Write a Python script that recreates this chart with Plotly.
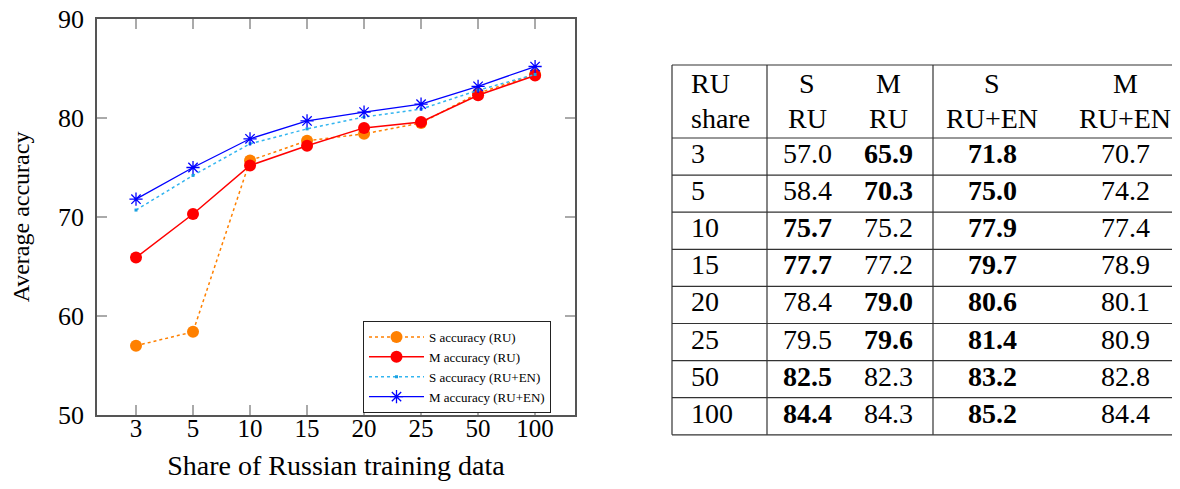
import plotly.graph_objects as go

# ---------------- data ----------------
shares = ["3", "5", "10", "15", "20", "25", "50", "100"]
s_ru = [57.0, 58.4, 75.7, 77.7, 78.4, 79.5, 82.5, 84.4]
m_ru = [65.9, 70.3, 75.2, 77.2, 79.0, 79.6, 82.3, 84.3]
s_ruen = [71.8, 75.0, 77.9, 79.7, 80.6, 81.4, 83.2, 85.2]
m_ruen = [70.7, 74.2, 77.4, 78.9, 80.1, 80.9, 82.8, 84.4]
y_ticks = [50, 60, 70, 80, 90]
header_top = ["RU", "S", "M", "S", "M"]
header_bot = ["share", "RU", "RU", "RU+EN", "RU+EN"]

FONT = "Liberation Serif, Times New Roman, serif"

# page body margin offset (browser default) -> figure is smaller and shifted
OFF = 8
W, H = 1180 - 2 * OFF, 489 - 2 * OFF
# plot area in screen pixels
SL, SR, ST, SB = 97, 575, 19, 415
L, R, T, B = SL - OFF, SR - OFF, ST - OFF, SB - OFF


def px(x):  # screen x -> paper
    return (x - OFF - L) / (R - L)


def py(y):  # screen y -> paper
    return (B - (y - OFF)) / (B - T)


fig = go.Figure()

fig.add_trace(go.Scatter(
    x=shares, y=s_ru, name="S accuracy (RU)", mode="lines+markers",
    line=dict(color="#FF8000", width=1.5, dash="dot"),
    marker=dict(color="#FF8000", size=12, symbol="circle")))
fig.add_trace(go.Scatter(
    x=shares, y=m_ru, name="M accuracy (RU)", mode="lines+markers",
    line=dict(color="#FF0000", width=1.5),
    marker=dict(color="#FF0000", size=12, symbol="circle")))
fig.add_trace(go.Scatter(
    x=shares, y=m_ruen, name="S accuracy (RU+EN)", mode="lines+markers",
    line=dict(color="#33B5F0", width=1.5, dash="dot"),
    marker=dict(color="#1AA0E0", size=3, symbol="square")))
fig.add_trace(go.Scatter(
    x=shares, y=s_ruen, name="M accuracy (RU+EN)", mode="lines+markers",
    line=dict(color="#0000FF", width=1.3),
    marker=dict(color="#0000FF", size=11, symbol="asterisk-open",
                line=dict(color="#0000FF", width=1.3))))

# ---------------- table ----------------
tab_left, tab_right = 672, 1180
tab_top, head_bot = 65, 138
row_h = 37.1
col_sep = [767, 933]
n_rows = len(shares)
tab_bot = head_bot + row_h * n_rows
line_col = "#333333"

shapes = []
hl = [tab_top, head_bot] + [head_bot + row_h * (i + 1) for i in range(n_rows)]
for yv in hl:
    shapes.append(dict(type="line", xref="paper", yref="paper",
                       x0=px(tab_left), x1=px(tab_right), y0=py(yv), y1=py(yv),
                       line=dict(color=line_col, width=1.2)))
for xv in [tab_left] + col_sep:
    shapes.append(dict(type="line", xref="paper", yref="paper",
                       x0=px(xv), x1=px(xv), y0=py(tab_top), y1=py(tab_bot),
                       line=dict(color=line_col, width=1.2)))

col_x = [689, 807, 888, 992, 1125]
col_anchor = ["left", "center", "center", "center", "center"]
TFS = 28
ann = []
for j in range(5):
    ann.append(dict(x=px(col_x[j]), y=py(83), xref="paper", yref="paper",
                    text=header_top[j], showarrow=False, xanchor=col_anchor[j],
                    yanchor="middle", font=dict(family=FONT, size=TFS, color="black")))
    ann.append(dict(x=px(col_x[j]), y=py(118), xref="paper", yref="paper",
                    text=header_bot[j], showarrow=False, xanchor=col_anchor[j],
                    yanchor="middle", font=dict(family=FONT, size=TFS, color="black")))

cols = [s_ru, m_ru, s_ruen, m_ruen]
for i in range(n_rows):
    yc = head_bot + row_h * (i + 0.5) - 3
    ann.append(dict(x=px(col_x[0]), y=py(yc), xref="paper", yref="paper",
                    text=shares[i], showarrow=False, xanchor="left", yanchor="middle",
                    font=dict(family=FONT, size=TFS, color="black")))
    pair_max = [max(s_ru[i], m_ru[i]), max(s_ruen[i], m_ruen[i])]
    for j, col in enumerate(cols):
        v = col[i]
        bold = v == pair_max[j // 2]
        txt = f"<b>{v:.1f}</b>" if bold else f"{v:.1f}"
        ann.append(dict(x=px(col_x[j + 1]), y=py(yc), xref="paper", yref="paper",
                        text=txt, showarrow=False, xanchor="center", yanchor="middle",
                        font=dict(family=FONT, size=TFS, color="black")))

fig.update_layout(
    width=W, height=H, autosize=False,
    margin=dict(l=L, r=W - R, t=T, b=H - B, pad=0, autoexpand=False),
    paper_bgcolor="white", plot_bgcolor="white",
    font=dict(family=FONT, size=24, color="black"),
    showlegend=True,
    legend=dict(x=px(363), y=py(321), xanchor="left", yanchor="top",
                bordercolor="#222222", borderwidth=1, bgcolor="white",
                font=dict(family=FONT, size=13, color="black"),
                itemwidth=55, tracegroupgap=0),
    shapes=shapes,
    annotations=ann,
)

fig.update_xaxes(
    type="category", range=[-0.684, 7.70], automargin=False,
    showgrid=False, zeroline=False,
    showline=True, linecolor="#555555", linewidth=1.5, mirror="ticks",
    ticks="inside", ticklen=10, tickcolor="#AAAAAA", tickwidth=1.5,
    ticklabelstandoff=-10,
    tickfont=dict(family=FONT, size=25, color="black"),
    title=dict(text="Share of Russian training data", standoff=16,
               font=dict(family=FONT, size=28, color="black")),
)
fig.update_yaxes(
    range=[50, 90], tickvals=y_ticks, automargin=False,
    showgrid=False, zeroline=False,
    showline=True, linecolor="#555555", linewidth=1.5, mirror="ticks",
    ticks="inside", ticklen=10, tickcolor="#AAAAAA", tickwidth=1.5,
    ticklabelstandoff=6, ticklabeloverflow="allow",
    tickfont=dict(family=FONT, size=26, color="black"),
    title=dict(text="Average accuracy", standoff=22,
               font=dict(family=FONT, size=24, color="black")),
)

fig.write_html("out.html")
